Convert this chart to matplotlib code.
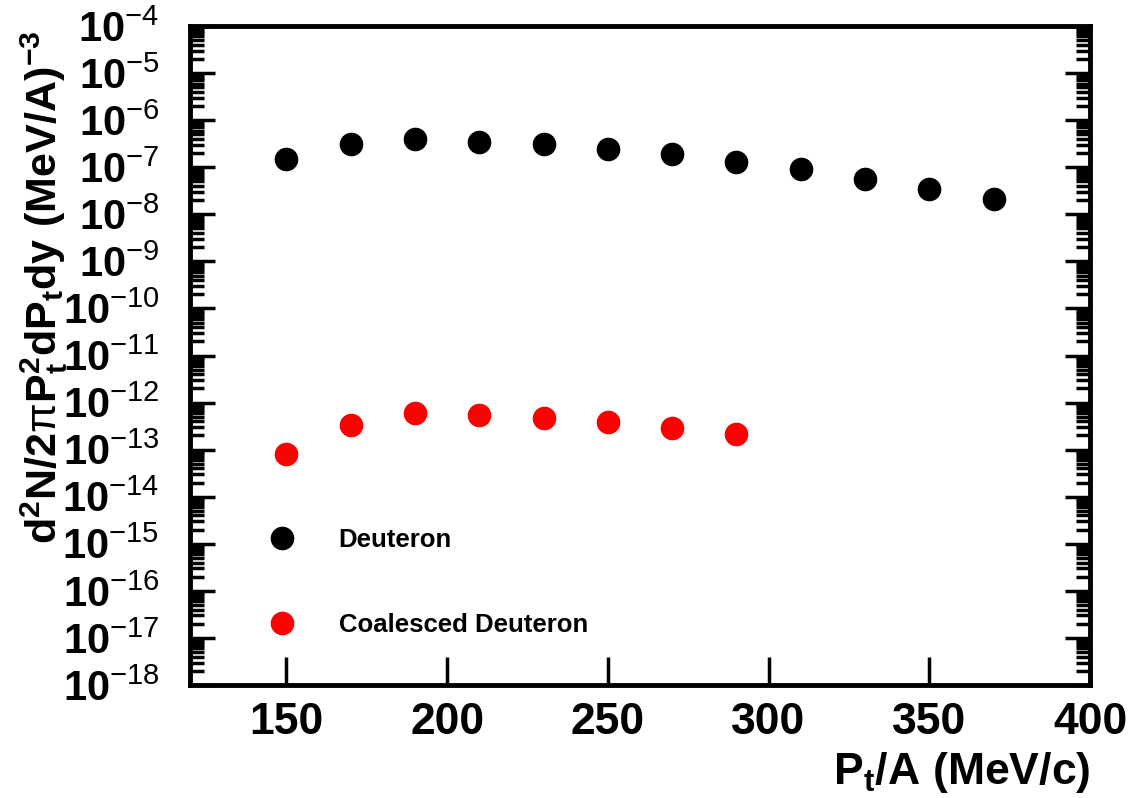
import numpy as np
import matplotlib
matplotlib.use("Agg")
import matplotlib.pyplot as plt
from matplotlib.ticker import LogLocator, NullFormatter, FixedLocator, FuncFormatter

# values
pt_deuteron = [150, 170, 190, 210, 230, 250, 270, 290, 310, 330, 350, 370]
deuteron = [1.46e-7, 3.05e-7, 3.95e-7, 3.46e-7, 3.05e-7, 2.42e-7,
            1.87e-7, 1.30e-7, 9.1e-8, 5.6e-8, 3.37e-8, 2.07e-8]

pt_coalesced = [150, 170, 190, 210, 230, 250, 270, 290]
coalesced = [8.0e-14, 3.3e-13, 5.9e-13, 5.4e-13, 4.7e-13, 3.8e-13, 2.9e-13, 2.2e-13]

x_ticks = [150, 200, 250, 300, 350, 400]
series_labels = ["Deuteron", "Coalesced Deuteron"]

plt.rcParams["font.family"] = ["Liberation Sans", "DejaVu Sans"]
plt.rcParams["font.weight"] = "bold"
plt.rcParams["axes.labelweight"] = "bold"
plt.rcParams["mathtext.fontset"] = "custom"
plt.rcParams["mathtext.rm"] = "Liberation Sans:weight=normal"
plt.rcParams["mathtext.it"] = "Liberation Sans:weight=bold"
plt.rcParams["mathtext.bf"] = "Liberation Sans:weight=bold"
plt.rcParams["mathtext.sf"] = "Liberation Sans:weight=bold"


def decade_label(val, pos):
    # bold mantissa, thin exponent like the ROOT output
    exp = int(round(np.log10(val)))
    return r"$\mathdefault{10}^{\mathrm{%d}}$" % exp


fig = plt.figure(figsize=(11.33, 7.98), dpi=100)
ax = fig.add_axes([190 / 1133, 1 - 685 / 798, 900 / 1133, 659 / 798])

ax.plot(pt_deuteron, deuteron, "o", color="black", markersize=16,
        linestyle="none", label=series_labels[0])
ax.plot(pt_coalesced, coalesced, "o", color="red", markersize=16,
        linestyle="none", label=series_labels[1])

ax.set_yscale("log")
ax.set_xlim(120, 400)
ax.set_ylim(1e-18, 1e-4)

ax.xaxis.set_major_locator(FixedLocator(x_ticks))
ax.yaxis.set_major_locator(LogLocator(base=10, numticks=30))
ax.yaxis.set_major_formatter(FuncFormatter(decade_label))
ax.yaxis.set_minor_locator(LogLocator(base=10, subs=np.arange(2, 10), numticks=30))
ax.yaxis.set_minor_formatter(NullFormatter())

for side in ax.spines.values():
    side.set_linewidth(3.5)

ax.tick_params(axis="x", which="major", direction="in", length=20, width=2.5,
               top=False, bottom=True, labelsize=32, pad=12)
ax.tick_params(axis="y", which="major", direction="in", length=18, width=2.5,
               left=True, right=True, labelsize=30, pad=22)
ax.tick_params(axis="y", which="minor", direction="in", length=10, width=2.5,
               left=True, right=True)

ax.set_xlabel(r"$\mathdefault{P_{t}/A\ (MeV/c)}$", fontsize=32, loc="right",
              fontweight="bold")
ax.xaxis.set_label_coords(1.0, -0.099)
ax.xaxis.label.set_va("top")

ax.set_ylabel(r"$\mathdefault{d^{2}N/2{\mathrm{\pi}}P_{t}^{2}dP_{t}dy\ (MeV/A)^{-3}}$",
              fontsize=31, loc="top", fontweight="bold")
ax.yaxis.set_label_coords(-0.133, 0.993)

ax.legend(loc="upper left", bbox_to_anchor=(0.088, 0.238), frameon=False,
          fontsize=18.5, handlelength=1.0, handletextpad=1.7, labelspacing=2.35,
          borderpad=0, borderaxespad=0, markerscale=1.0, numpoints=1)

fig.savefig("out.png", dpi=100)
